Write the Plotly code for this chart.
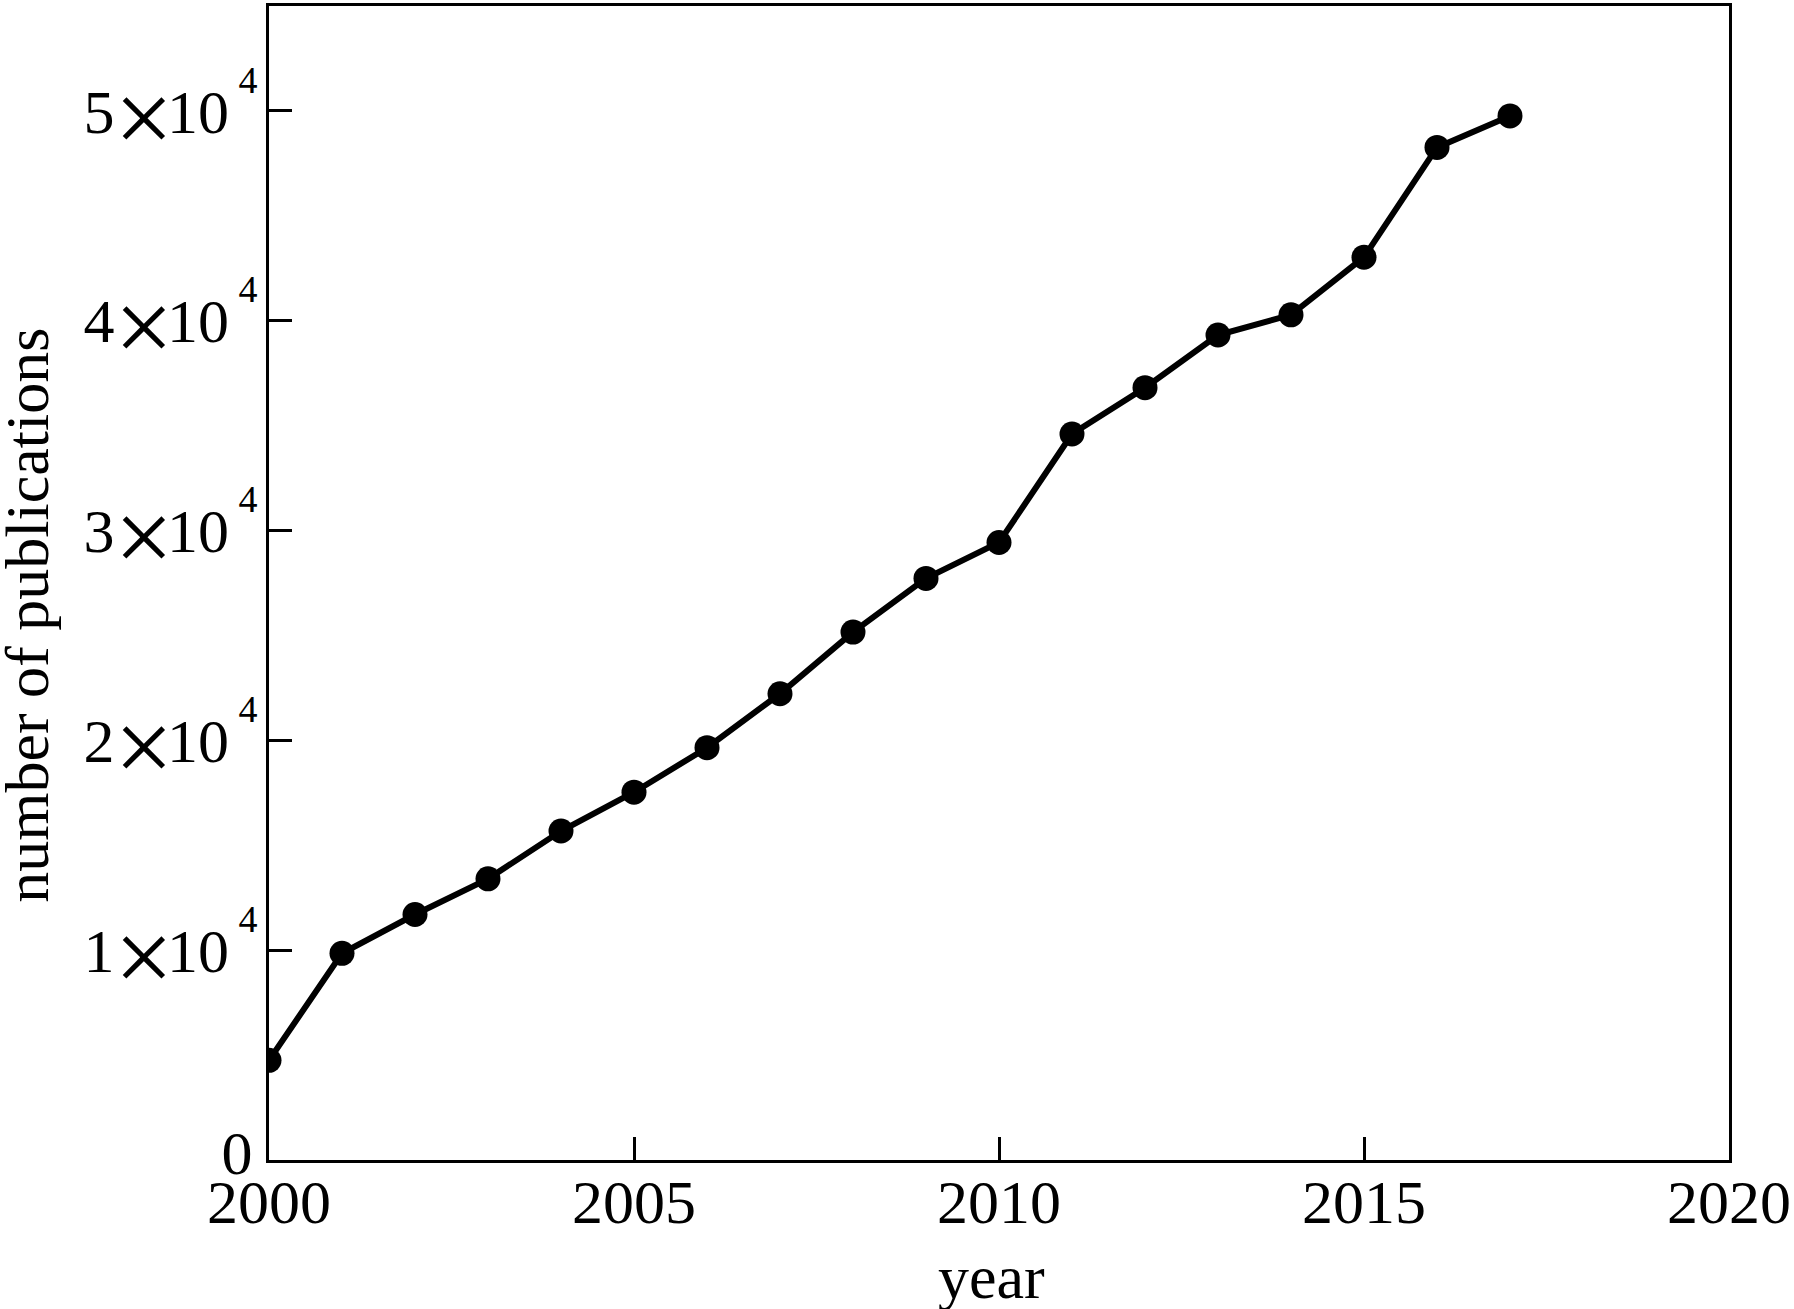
import plotly.graph_objects as go

years = [2000, 2001, 2002, 2003, 2004, 2005, 2006, 2007, 2008, 2009,
         2010, 2011, 2012, 2013, 2014, 2015, 2016, 2017]
publications = [4750, 9850, 11700, 13400, 15680, 17530, 19650, 22220, 25160, 27720,
                29430, 34600, 36810, 39320, 40280, 43030, 48260, 49760]

x_ticks = [2000, 2005, 2010, 2015, 2020]
y_ticks = [0, 10000, 20000, 30000, 40000, 50000]
y_mantissas = ["1", "2", "3", "4", "5"]

FONT = "Liberation Serif"
FS = 62

times_sign = '<span style="font-size:104px;baseline-shift:-20px;letter-spacing:-6px">×</span>'
exponent = '<span style="font-size:38px;baseline-shift:40px">\u00a04</span>'
y_tick_labels = ['<span style="baseline-shift:8px">0\u200a</span>'] + \
    [m + times_sign + "10" + exponent for m in y_mantissas]

fig = go.Figure()
fig.add_trace(go.Scatter(
    x=years, y=publications, mode="lines+markers",
    line=dict(color="black", width=6),
    marker=dict(color="black", size=25),
    showlegend=False, cliponaxis=True,
))

axis_common = dict(
    showgrid=False, zeroline=False, showline=True, linecolor="black", linewidth=3,
    mirror=True, ticks="inside", ticklen=23, tickwidth=2.5, tickcolor="black",
    tickfont=dict(family=FONT, size=FS, color="black"),
)

fig.update_xaxes(range=[2000, 2020], tickvals=x_ticks, ticktext=[str(v) for v in x_ticks],
                 ticklabelstandoff=-14, **axis_common)
fig.update_yaxes(range=[0, 55000], tickvals=y_ticks, ticktext=y_tick_labels,
                 ticklabelstandoff=-4, **axis_common)

fig.add_annotation(text="year", xref="paper", yref="paper", x=0.4952, y=-0.1017,
                   xanchor="center", yanchor="middle", showarrow=False,
                   font=dict(family=FONT, size=FS, color="black"))
fig.add_annotation(text="number of publications", xref="paper", yref="paper",
                   x=-0.1658, y=0.4724, xanchor="center", yanchor="middle",
                   textangle=-90, showarrow=False,
                   font=dict(family=FONT, size=FS, color="black"))

fig.update_layout(
    width=1794, height=1309,
    margin=dict(l=269, r=63, t=3, b=149),
    paper_bgcolor="white", plot_bgcolor="white",
)

fig.write_html("out.html", config={"displayModeBar": False},
               post_script="document.body.style.margin='0px';document.body.style.overflow='hidden';")
